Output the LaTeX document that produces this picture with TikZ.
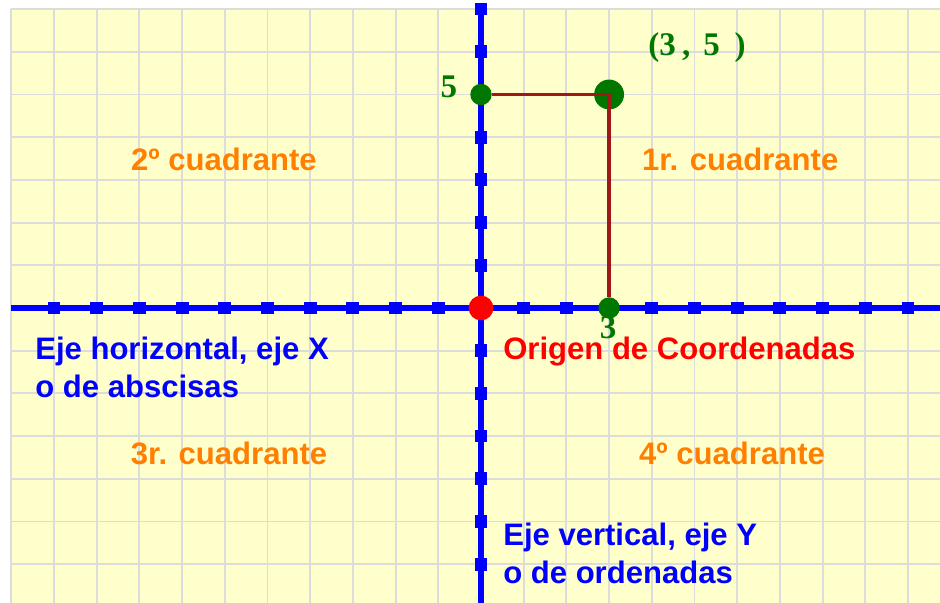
\documentclass[tikz,border=0pt]{standalone}
\usepackage{fontspec}
\setmainfont{Liberation Sans}
\newfontfamily\numfont{Liberation Serif}
\definecolor{papel}{HTML}{FFFFCC}
\definecolor{cuadricula}{HTML}{DCDCDC}
\definecolor{verde}{HTML}{007800}
\definecolor{granate}{HTML}{A01818}
\definecolor{naranja}{HTML}{FF7F00}

\begin{document}
\begin{tikzpicture}[
	eje/.style = {blue, line width=3.4pt},
	marca/.style = {fill=blue, inner sep=0pt, minimum size=0.3cm},
	punto/.style = {circle, fill=verde, inner sep=0pt, minimum size=0.5cm},
	rotulo/.style = {font=\fontsize{20.7}{25.3}\selectfont\bfseries},
	cuadrante/.style = {rotulo, naranja},
	cifra/.style = {font=\fontsize{22}{26}\selectfont\numfont\bfseries, verde}]
	
	% Paper and grid
	\useasboundingbox (-11.265,-6.909) rectangle (10.75,7.213);
	\fill[white] (-11.265,-6.909) rectangle (10.75,7.213);
	\fill[papel] (-11,-6.909) rectangle (10.75,7);
	\draw[cuadricula, line width=1.3pt] (-11,-6.909) grid (10.75,7);
	
	% Axes
	\coordinate (xizq) at (-11,0);
	\coordinate (xder) at (10.75,0);
	\coordinate (yabajo) at (0,-6.909);
	\coordinate (yarriba) at (0,7.05);
	\draw[eje] (xizq) -- (xder);
	\draw[eje] (yabajo) -- (yarriba);
	
	% Tick marks
	\foreach \i in {-10,-9,...,-1,1,2,4,5,...,10}
		\node[marca] (mx\i) at (\i,0) {};
	\foreach \j in {-6,-5,...,-1,1,2,3,4,6,7}
		\node[marca] (my\j) at (0,\j) {};
	
	% The point (3,5) and its projections
	\node[punto, minimum size=0.7cm] (p) at (3,5) {};
	\node[punto] (py) at (0,5) {};
	\node[punto] (px) at (3,0) {};
	\draw[granate, line width=2.6pt] (py) -- (p.center) -- (px);
	\node[circle, fill=red, inner sep=0pt, minimum size=0.58cm] (o) at (0,0) {};
	
	% Numbers
	\node[cifra] (cinco) at (-0.75,5.17) {5};
	\node[cifra] (tres) at (2.98,-0.47) {3};
	\node[cifra] (par) at (5.06,6.09) {(3\hspace{0.15cm},\hspace{0.3cm}5\hspace{0.35cm})};
	
	% Quadrant labels
	\node[cuadrante] (c2) at (-6.02,3.47) {2º cuadrante};
	\node[cuadrante] (c1) at (6.07,3.47) {1r. cuadrante};
	\node[cuadrante] (c3) at (-5.90,-3.40) {3r. cuadrante};
	\node[cuadrante] (c4) at (5.88,-3.40) {4º cuadrante};
	
	% Axis and origin labels
	\node[rotulo, red, anchor=north west, inner sep=0pt] (origen) at (0.515,-0.68) {Origen de Coordenadas};
	\node[rotulo, blue, anchor=north west, inner sep=0pt, align=left] (ejex) at (-10.445,-0.68) {Eje horizontal, eje X\\o de abscisas};
	\node[rotulo, blue, anchor=north west, inner sep=0pt, align=left] (ejey) at (0.515,-5.035) {Eje vertical, eje Y\\o de ordenadas};
	
\end{tikzpicture}
\end{document}
